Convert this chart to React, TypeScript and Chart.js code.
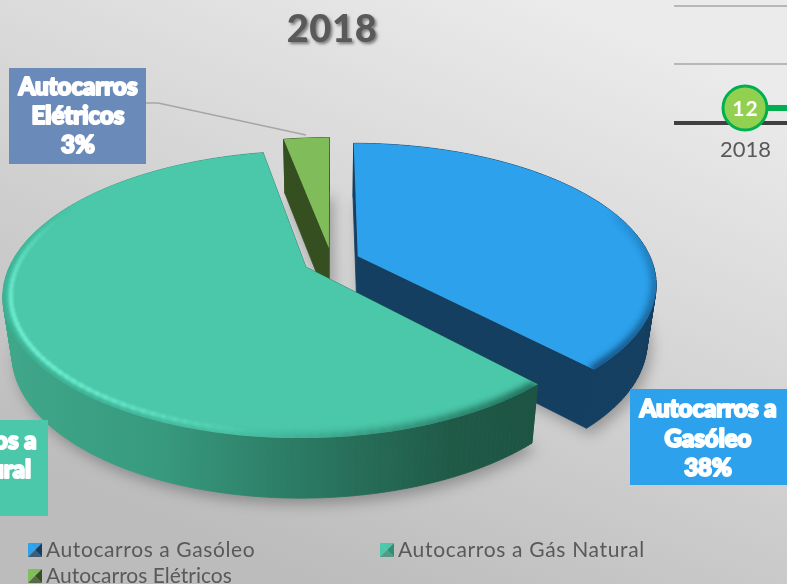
import React, { useEffect, useRef } from "react";
import { Chart, registerables } from "chart.js";

Chart.register(...registerables);

const chartTitle = "2018";
const categories = ["Autocarros a Gasóleo", "Autocarros a Gás Natural", "Autocarros Elétricos"];
const shares = [38, 59, 3];
const sliceOffsets = [27, 27, 27];
const faceColors = ["#2da1ec", "#4bc7a9", "#80bc5a"];
const wallColors = ["#143f61", "#2f8f74", "#354f20"];
const boxColors = ["#2da1ec", "#4bc7a9", "#6a8bb9"];
const boxLines = [["Autocarros a", "Gasóleo", "38%"], ["Autocarros a", "Gás Natural", "59%"], ["Autocarros", "Elétricos", "3%"]];
const neighbourLabel = "2018";
const neighbourValue = "12";

const W = 787;
const H = 584;
const P = { cx: 331.5, cy: 261, a: 294, b: 136, k: 0.19 };
const FONT = "Lato";

type Pt = [number, number];
const project = (px: number, py: number): Pt => {
  const w = 1 - P.k * py;
  return [P.cx + (P.a * px) / w, P.cy + (P.b * py) / w];
};
const lower = (p: Pt): Pt => [P.cx + (p[0] - P.cx) * 0.972, p[1] + 54 + (p[1] - 136) * 0.02];

function sliceGeom(el: any) {
  const { startAngle, endAngle, outerRadius } = el.getProps(["startAngle", "endAngle", "outerRadius"], true);
  const d = el.options.offset / outerRadius;
  const mid = (startAngle + endAngle) / 2;
  const ox = d * Math.cos(mid);
  const oy = d * Math.sin(mid);
  const n = Math.max(6, Math.ceil(((endAngle - startAngle) * 180) / Math.PI));
  const arc: Pt[] = [];
  for (let i = 0; i <= n; i++) {
    const t = startAngle + ((endAngle - startAngle) * i) / n;
    arc.push(project(ox + Math.cos(t), oy + Math.sin(t)));
  }
  return { startAngle, endAngle, ox, oy, arc, apex: project(ox, oy) };
}

function tracePoly(ctx: CanvasRenderingContext2D, pts: Pt[]) {
  ctx.beginPath();
  pts.forEach((p, i) => (i ? ctx.lineTo(p[0], p[1]) : ctx.moveTo(p[0], p[1])));
  ctx.closePath();
}

function rim(ctx: CanvasRenderingContext2D, g: any, fromDeg: number, toDeg: number, inset: number, lw: number, blur: number, color: (f: number) => string) {
  ctx.save();
  tracePoly(ctx, [g.apex, ...g.arc]);
  ctx.clip();
  ctx.filter = `blur(${blur}px)`;
  ctx.lineWidth = lw;
  const steps = Math.ceil(Math.abs(toDeg - fromDeg) / 2);
  for (let i = 0; i < steps; i++) {
    const f = i / steps;
    const t0 = ((fromDeg + (toDeg - fromDeg) * f - 90) * Math.PI) / 180;
    const t1 = ((fromDeg + (toDeg - fromDeg) * ((i + 1.3) / steps) - 90) * Math.PI) / 180;
    const p0 = project(g.ox + inset * Math.cos(t0), g.oy + inset * Math.sin(t0));
    const p1 = project(g.ox + inset * Math.cos(t1), g.oy + inset * Math.sin(t1));
    ctx.strokeStyle = color(f);
    ctx.beginPath();
    ctx.moveTo(p0[0], p0[1]);
    ctx.lineTo(p1[0], p1[1]);
    ctx.stroke();
  }
  ctx.restore();
}

const backdrop = {
  id: "backdrop",
  beforeDraw(chart: any) {
    const ctx = chart.ctx as CanvasRenderingContext2D;
    const g = ctx.createLinearGradient(560, 0, 320, 584);
    g.addColorStop(0, "#ebebeb");
    g.addColorStop(1, "#bcbcbc");
    ctx.fillStyle = g;
    ctx.fillRect(0, 0, W, H);

    // fragment of the neighbouring chart
    ctx.strokeStyle = "#a6a6a6";
    ctx.lineWidth = 1.5;
    [6, 64].forEach((y) => {
      ctx.beginPath();
      ctx.moveTo(674, y);
      ctx.lineTo(W, y);
      ctx.stroke();
    });
    ctx.strokeStyle = "#404040";
    ctx.lineWidth = 4;
    ctx.beginPath();
    ctx.moveTo(674, 123);
    ctx.lineTo(W, 123);
    ctx.stroke();
    ctx.strokeStyle = "#00b050";
    ctx.lineWidth = 6;
    ctx.beginPath();
    ctx.moveTo(745, 108);
    ctx.lineTo(W, 108);
    ctx.stroke();
    ctx.fillStyle = "#92d050";
    ctx.lineWidth = 3;
    ctx.beginPath();
    ctx.arc(745, 108, 22, 0, Math.PI * 2);
    ctx.fill();
    ctx.stroke();
    ctx.textAlign = "center";
    ctx.textBaseline = "middle";
    ctx.fillStyle = "#ffffff";
    ctx.font = `bold 21px ${FONT}`;
    (ctx as any).letterSpacing = "1px";
    ctx.fillText(neighbourValue, 745.5, 109);
    (ctx as any).letterSpacing = "0px";
    ctx.fillStyle = "#595959";
    ctx.font = `22px ${FONT}`;
    ctx.fillText(neighbourLabel, 745.5, 150);
  },
};

const pie3d = {
  id: "pie3d",
  beforeDatasetDraw(chart: any, args: any) {
    const ctx = chart.ctx as CanvasRenderingContext2D;
    const arcs = chart.getDatasetMeta(args.index).data;
    const geoms = arcs.map(sliceGeom);

    // ground shadow
    ctx.save();
    ctx.filter = "blur(7px)";
    ctx.fillStyle = "rgba(0,0,0,0.28)";
    geoms.forEach((g: any) => {
      const o = [g.apex, ...g.arc].map(lower).map((p: Pt) => [p[0] + 4, p[1] + 6] as Pt);
      tracePoly(ctx, o);
      ctx.fill();
    });
    ctx.restore();

    [2, 0, 1].forEach((i) => {
      const g = geoms[i];
      const outline: Pt[] = [g.apex, ...g.arc];
      let wall: any = wallColors[i];
      if (i === 1) {
        const lg = ctx.createLinearGradient(0, 0, 530, 0);
        lg.addColorStop(0, "#3fa88a");
        lg.addColorStop(0.3, "#379a7e");
        lg.addColorStop(0.6, "#2a7660");
        lg.addColorStop(0.85, "#1f5a47");
        lg.addColorStop(1, "#1d5443");
        wall = lg;
      }
      ctx.fillStyle = wall;
      ctx.strokeStyle = wall;
      ctx.lineWidth = 0.8;
      for (let s = 0; s < outline.length; s++) {
        const a = outline[s];
        const b = outline[(s + 1) % outline.length];
        tracePoly(ctx, [a, b, lower(b), lower(a)]);
        ctx.fill();
        ctx.stroke();
      }
      tracePoly(ctx, outline);
      ctx.fillStyle = faceColors[i];
      ctx.fill();
    });

    const [blue, green] = geoms;
    rim(ctx, blue, 70, 137, 1.0, 9, 3, (f) => `rgba(15,60,100,${(0.1 + 0.7 * f).toFixed(2)})`);
    rim(ctx, green, 137, 190, 1.0, 9, 3, (f) => `rgba(20,80,65,${(0.75 * (1 - f)).toFixed(2)})`);
    rim(ctx, green, 185, 300, 0.975, 3.5, 1.5, (f) => `rgba(120,250,220,${(0.85 * Math.sin(Math.PI * Math.min(1, f * 1.05))).toFixed(2)})`);
    rim(ctx, green, 185, 300, 1.0, 6, 2, (f) => `rgba(40,140,115,${(0.4 * Math.sin(Math.PI * f)).toFixed(2)})`);
    return false;
  },
};

function textBlock(ctx: CanvasRenderingContext2D, lines: string[], cx: number, ys: number[]) {
  ctx.fillStyle = "#ffffff";
  ctx.strokeStyle = "#ffffff";
  ctx.lineWidth = 2;
  ctx.lineJoin = "round";
  ctx.font = `900 24px ${FONT}`;
  ctx.textAlign = "center";
  ctx.textBaseline = "middle";
  lines.forEach((l, i) => {
    ctx.strokeText(l, cx, ys[i]);
    ctx.fillText(l, cx, ys[i]);
  });
}

function legendIcon(ctx: CanvasRenderingContext2D, x: number, y: number, i: number) {
  const s = 14;
  const c: Pt = [x + s / 2, y + s / 2];
  ctx.fillStyle = faceColors[i];
  tracePoly(ctx, [[x, y], [x + s, y], c]);
  ctx.fill();
  ctx.fillStyle = wallColors[i];
  tracePoly(ctx, [[x + s, y], [x + s, y + s], c]);
  ctx.fill();
  ctx.fillStyle = faceColors[i];
  tracePoly(ctx, [[x, y], [x, y + s], c]);
  ctx.fill();
  ctx.globalAlpha = 0.75;
  ctx.fillStyle = wallColors[i];
  tracePoly(ctx, [[x, y + s], [x + s, y + s], c]);
  ctx.fill();
  ctx.globalAlpha = 1;
}

const overlay = {
  id: "overlay",
  afterDraw(chart: any) {
    const ctx = chart.ctx as CanvasRenderingContext2D;
    ctx.save();
    // title
    ctx.font = `900 38px ${FONT}`;
    ctx.textAlign = "center";
    ctx.textBaseline = "middle";
    ctx.save();
    ctx.shadowColor = "rgba(0,0,0,0.45)";
    ctx.shadowBlur = 3;
    ctx.shadowOffsetX = 2;
    ctx.shadowOffsetY = 2;
    ctx.fillStyle = "#595959";
    (ctx as any).letterSpacing = "0.6px";
    ctx.fillText(chartTitle, 332, 30);
    (ctx as any).letterSpacing = "0px";
    ctx.restore();

    // leader line
    ctx.strokeStyle = "#a6a6a6";
    ctx.lineWidth = 1.5;
    ctx.beginPath();
    ctx.moveTo(146, 103);
    ctx.lineTo(158, 103);
    ctx.lineTo(306, 135);
    ctx.stroke();

    // data label boxes
    ctx.fillStyle = boxColors[2];
    ctx.fillRect(9, 68, 137, 96);
    textBlock(ctx, boxLines[2], 78, [87, 116, 145]);
    ctx.fillStyle = boxColors[0];
    ctx.fillRect(630, 389, 157, 96);
    textBlock(ctx, boxLines[0], 708, [409, 439, 468]);
    ctx.fillStyle = boxColors[1];
    ctx.fillRect(0, 420, 48, 96);
    textBlock(ctx, boxLines[1], -32, [441, 470, 500]);

    // legend
    const slots: [number, number][] = [[28, 550], [380, 550], [28, 576]];
    const spacing = ["0.6px", "0.67px", "0px"];
    ctx.font = `21px ${FONT}`;
    ctx.textAlign = "left";
    categories.forEach((c, i) => {
      const [x, y] = slots[i];
      legendIcon(ctx, x, y - 7, i);
      ctx.fillStyle = "#595959";
      (ctx as any).letterSpacing = spacing[i];
      ctx.fillText(c, x + 18, y);
    });
    (ctx as any).letterSpacing = "0px";
    ctx.restore();
  },
};

export default function App() {
  const ref = useRef<HTMLCanvasElement | null>(null);
  useEffect(() => {
    document.documentElement.style.overflow = "hidden";
    const chart = new Chart(ref.current as HTMLCanvasElement, {
      type: "pie",
      data: {
        labels: categories,
        datasets: [{ data: shares, offset: sliceOffsets, backgroundColor: faceColors, borderWidth: 0 }],
      },
      options: {
        responsive: false,
        animation: false,
        plugins: { legend: { display: false }, tooltip: { enabled: false } },
      },
      plugins: [backdrop, pie3d, overlay],
    } as any);
    return () => chart.destroy();
  }, []);
  return <canvas ref={ref} width={W} height={H} style={{ position: "fixed", left: 0, top: 0, display: "block" }} />;
}
